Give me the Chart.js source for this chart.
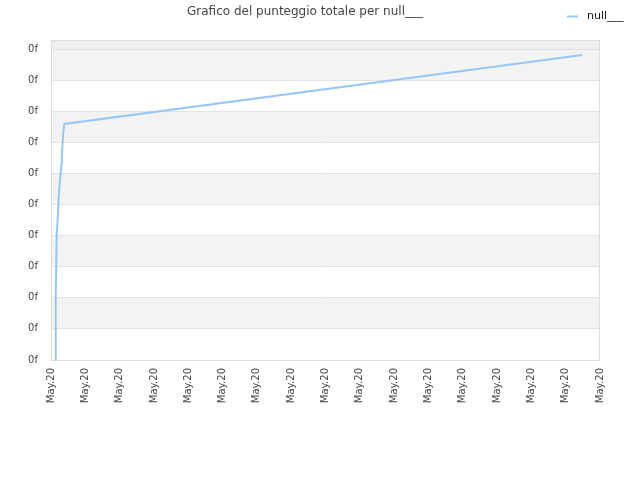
<!DOCTYPE html>
<html>
<head>
<meta charset="utf-8">
<script src="https://cdn.jsdelivr.net/npm/chart.js@4/dist/chart.umd.min.js"></script>
<style>
  html, body { margin: 0; padding: 0; background: #fff; }
  #wrap { width: 640px; height: 480px; position: relative; }
</style>
</head>
<body>
<div id="wrap"><canvas id="chart"></canvas></div>
<script>
const chartTitle = "Grafico del punteggio totale per null___";
const seriesName = "null___";
// x positions in tick units (17 ticks, all labelled May.20), y in grid units
const xLabels = ["May.20","May.20","May.20","May.20","May.20","May.20","May.20","May.20","May.20",
                 "May.20","May.20","May.20","May.20","May.20","May.20","May.20","May.20"];
const yLabels = ["0f","0f","0f","0f","0f","0f","0f","0f","0f","0f","0f"];
const xValues = [0.137, 0.137, 0.166, 0.204, 0.224, 0.262, 0.312, 0.329, 0.359, 0.388, 15.48];
const yValues = [0, 2.03, 4.02, 4.73, 5.24, 5.79, 6.37, 6.82, 7.33, 7.59, 9.81];

const lineColor = '#97c6f6';
const font = "'DejaVu Sans', sans-serif";

// striped background, plot border, title and legend
const decor = {
  id: 'decor',
  beforeDraw(chart) {
    const {ctx, chartArea: a, scales: {y}} = chart;
    ctx.save();
    ctx.fillStyle = '#eeeeee';
    ctx.fillRect(a.left, a.top, a.right - a.left, y.getPixelForValue(10) - a.top);
    ctx.fillStyle = '#f3f3f3';
    for (let v = 9; v >= 0; v -= 2) {
      const t = y.getPixelForValue(v + 1), b = y.getPixelForValue(v);
      ctx.fillRect(a.left, t, a.right - a.left, b - t);
    }
    ctx.restore();
  },
  afterDraw(chart) {
    const {ctx, chartArea: a} = chart;
    ctx.save();
    ctx.strokeStyle = '#dddddd';
    ctx.lineWidth = 1;
    ctx.strokeRect(a.left + 0.5, a.top + 0.5, a.right - a.left - 1, a.bottom - a.top);
    ctx.fillStyle = '#444';
    ctx.font = "12px " + font;
    ctx.textAlign = 'center';
    ctx.textBaseline = 'middle';
    ctx.fillText(chartTitle, 305, 12);
    ctx.strokeStyle = lineColor;
    ctx.lineWidth = 2;
    ctx.beginPath();
    ctx.moveTo(567, 16.5);
    ctx.lineTo(578, 16.5);
    ctx.stroke();
    ctx.fillStyle = '#111';
    ctx.font = "11px " + font;
    ctx.textAlign = 'left';
    ctx.fillText(seriesName, 587, 16);
    ctx.restore();
  }
};

new Chart(document.getElementById('chart'), {
  type: 'line',
  data: {
    datasets: [{
      label: seriesName,
      data: xValues.map((x, i) => ({x: x, y: yValues[i]})),
      borderColor: lineColor,
      borderWidth: 2,
      pointRadius: 0,
      fill: false,
      tension: 0
    }]
  },
  options: {
    responsive: true,
    maintainAspectRatio: false,
    animation: false,
    layout: { padding: { top: 40, right: 40, left: 0, bottom: 0 } },
    plugins: { legend: { display: false }, title: { display: false }, tooltip: { enabled: false } },
    scales: {
      x: {
        type: 'linear',
        min: 0, max: 16,
        afterFit(s) { s.height = 120; },
        grid: { display: false, drawTicks: false },
        border: { display: false },
        ticks: {
          stepSize: 1, autoSkip: false, minRotation: 90, maxRotation: 90, padding: 8,
          color: '#444', font: { family: font, size: 10 },
          callback: (v) => xLabels[v]
        }
      },
      y: {
        min: 0, max: 10.29,
        afterFit(s) { s.width = 51; },
        afterBuildTicks(s) { s.ticks = yLabels.map((_, i) => ({value: i})); },
        grid: { color: '#e2e2e2', drawTicks: false },
        border: { display: false },
        ticks: {
          autoSkip: false, padding: 13,
          color: '#444', font: { family: font, size: 10 },
          callback: (v) => yLabels[v]
        }
      }
    }
  },
  plugins: [decor]
});
</script>
</body>
</html>
